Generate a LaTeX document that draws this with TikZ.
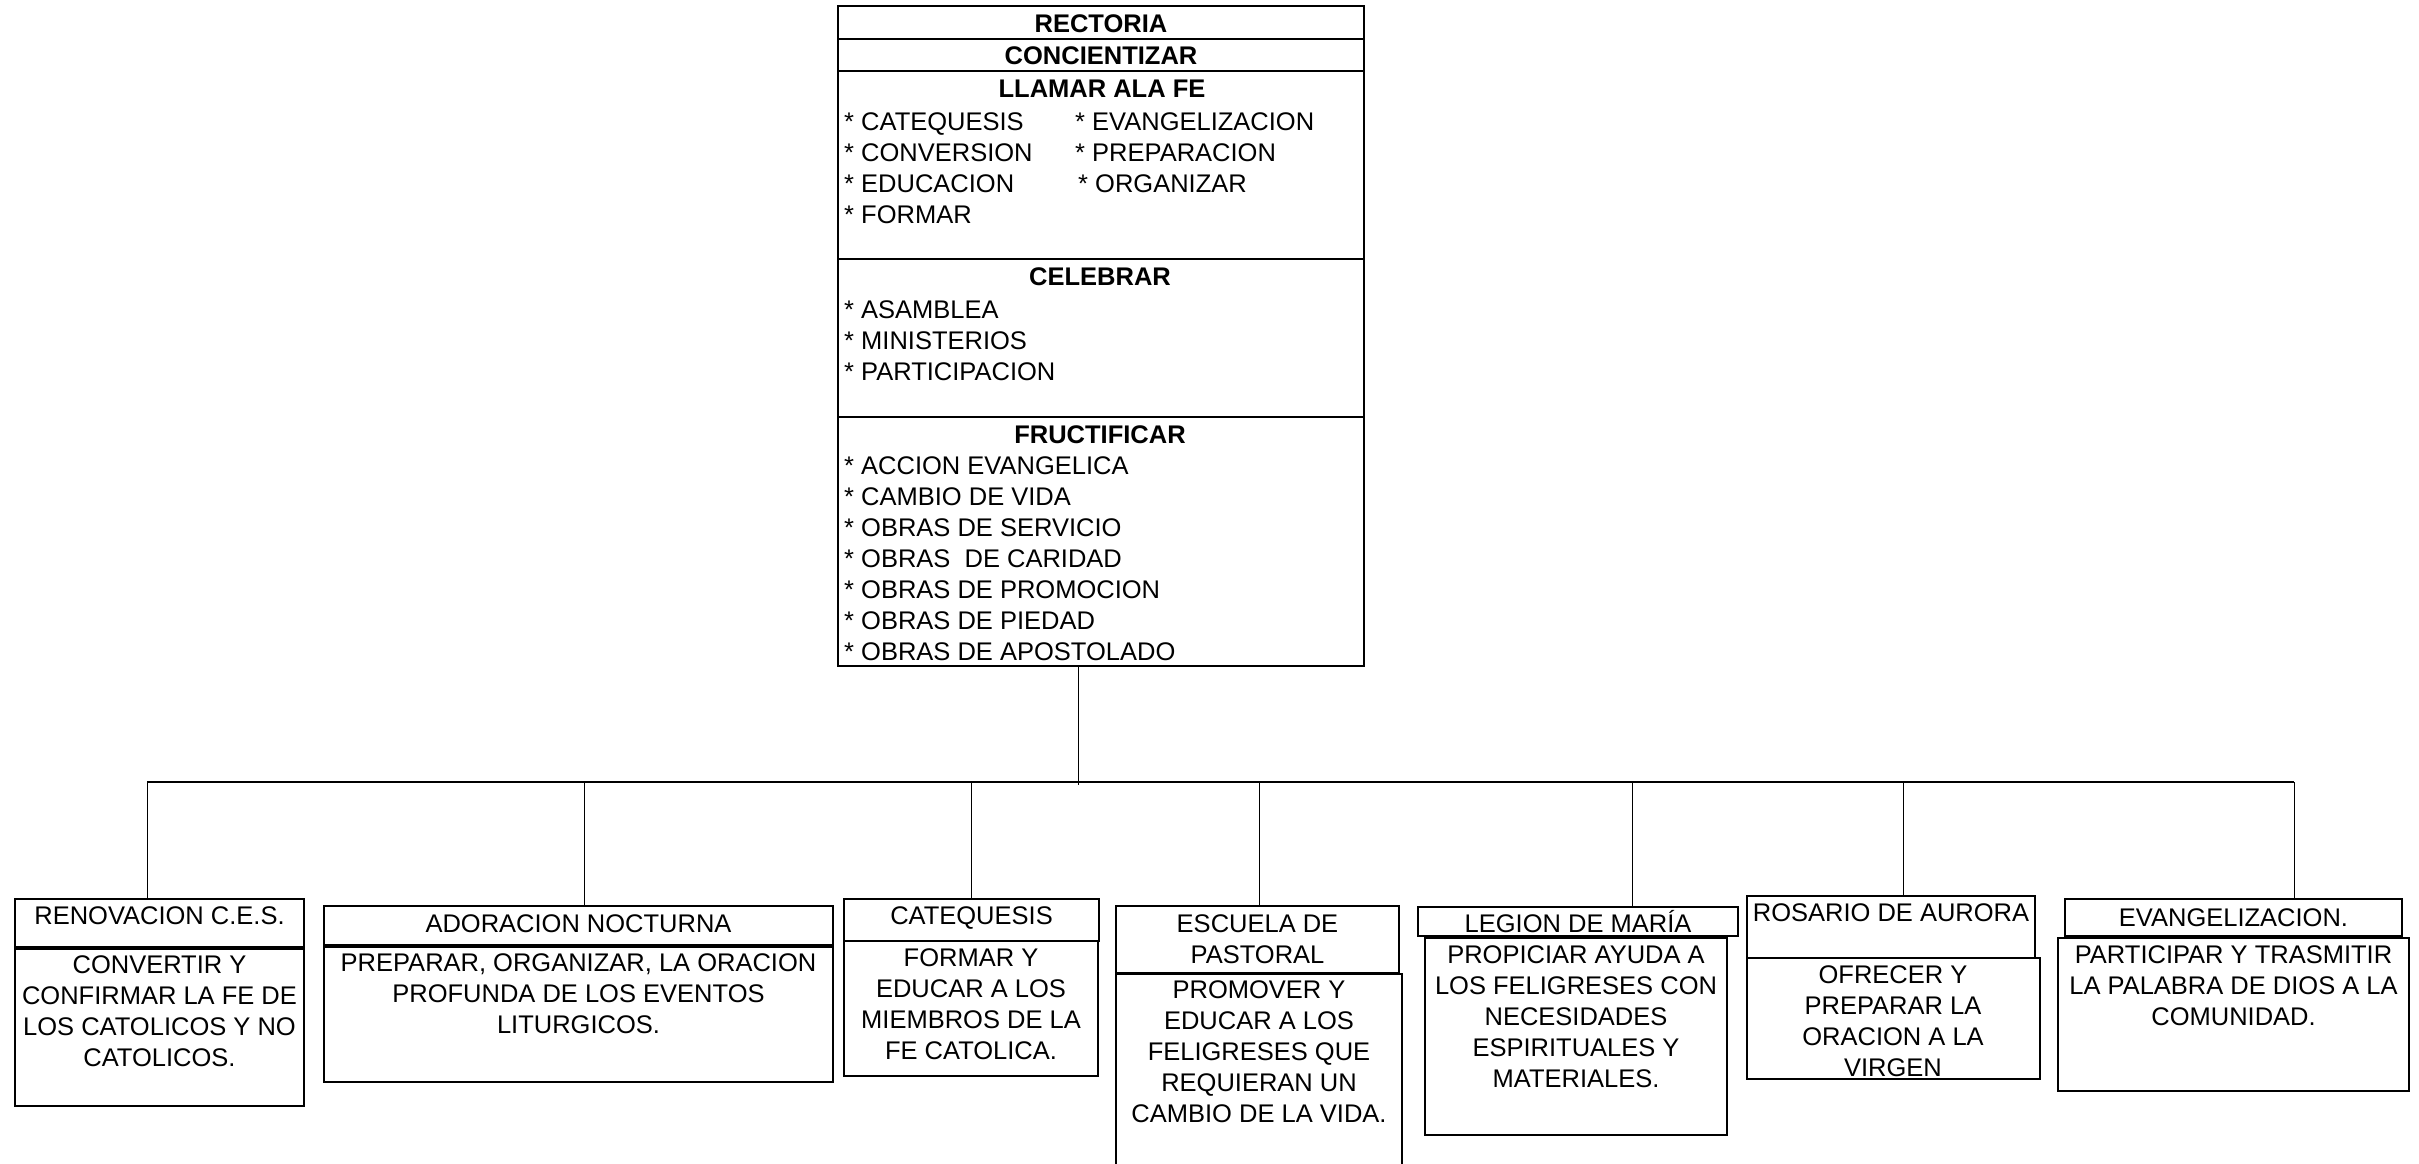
\documentclass[tikz,border=0pt]{standalone}
\usepackage{fontspec}
\setmainfont{Liberation Sans}
\newcommand\mkbox[6][box]{\node[#1, minimum width={(#5-#3)*1pt}, minimum height={(#6-#4)*1pt}] (#2) at (#3,#4) {};}
\begin{document}
\begin{tikzpicture}[x=1pt,y=-1pt,
  box/.style={draw, line width=1.5pt, inner sep=0pt, outer sep=0pt, anchor=north west},
  topbox/.style={box, line width=2pt},
  txt/.style={inner sep=0pt, font=\fontsize{25.5}{31}\selectfont, align=center, anchor=north},
  txtb/.style={inner sep=0pt, font=\fontsize{25.5}{31}\selectfont, anchor=base},
  ttl/.style={inner sep=0pt, font=\fontsize{25.5}{31}\selectfont\bfseries, anchor=base},
  lst/.style={inner sep=0pt, font=\fontsize{25.5}{31}\selectfont, align=left, anchor=north west},
  link/.style={line width=1pt},
  bar/.style={line width=2.4pt}]
\useasboundingbox (0,0) rectangle (2419,1163);
\clip (0,0) rectangle (2419,1163);
% ---- top box ----
\mkbox[topbox]{secA}{838}{6}{1364}{39}
\mkbox[topbox]{secB}{838}{39}{1364}{71}
\mkbox[topbox]{secC}{838}{71}{1364}{259}
\mkbox[topbox]{secD}{838}{259}{1364}{416.5}
\mkbox[topbox]{secE}{838}{416.5}{1364}{666}
\node[ttl] (tRect) at (1101,32) {RECTORIA};
\node[ttl] (tConc) at (1101,64.5) {CONCIENTIZAR};
\node[ttl] (tLlam) at (1102,97) {LLAMAR ALA FE};
\node[lst] (lLlamA) at (844,112) {* CATEQUESIS\\* CONVERSION\\* EDUCACION\\* FORMAR};
\node[lst] (lLlamB) at (1075,112) {* EVANGELIZACION\\* PREPARACION\\\hspace{3pt}* ORGANIZAR};
\node[ttl] (tCel) at (1100,285.5) {CELEBRAR};
\node[lst] (lCel) at (844,300) {* ASAMBLEA\\* MINISTERIOS\\* PARTICIPACION};
\node[ttl] (tFru) at (1100,443) {FRUCTIFICAR};
\node[lst] (lFru) at (844,456) {* ACCION EVANGELICA\\* CAMBIO DE VIDA\\* OBRAS DE SERVICIO\\* OBRAS\ \ DE CARIDAD\\* OBRAS DE PROMOCION\\* OBRAS DE PIEDAD\\* OBRAS DE APOSTOLADO};
% ---- child boxes ----
\mkbox{hRen}{15}{899}{304}{947}
\mkbox{bRen}{15}{949}{304}{1106}
\node[txtb] (thRen) at (159.5,924) {RENOVACION C.E.S.};
\node[txt] (tbRen) at (159.5,955.5) {CONVERTIR Y\\CONFIRMAR LA FE DE\\LOS CATOLICOS Y NO\\CATOLICOS.};
\mkbox{hAdo}{324}{906}{833}{945}
\mkbox{bAdo}{324}{947}{833}{1082}
\node[txtb] (thAdo) at (578.5,932) {ADORACION NOCTURNA};
\node[txt] (tbAdo) at (578.5,953.5) {PREPARAR, ORGANIZAR, LA ORACION\\PROFUNDA DE LOS EVENTOS\\LITURGICOS.};
\mkbox{hCat}{844}{899}{1099}{941}
\mkbox{bCat}{844}{941}{1098}{1076}
\node[txtb] (thCat) at (971.5,924) {CATEQUESIS};
\node[txt] (tbCat) at (971,948.5) {FORMAR Y\\EDUCAR A LOS\\MIEMBROS DE LA\\FE CATOLICA.};
\mkbox{hEsc}{1116}{906}{1399}{973}
\mkbox{bEsc}{1116}{974}{1402}{1190}
\node[txt] (thEsc) at (1257.5,914.5) {ESCUELA DE\\PASTORAL};
\node[txt] (tbEsc) at (1259,980.5) {PROMOVER Y\\EDUCAR A LOS\\FELIGRESES QUE\\REQUIERAN UN\\CAMBIO DE LA VIDA.};
\mkbox{hLeg}{1418}{907}{1738}{936}
\mkbox{bLeg}{1425}{938}{1727}{1135}
\node[txtb] (thLeg) at (1578,932) {LEGION DE MARÍA};
\node[txt] (tbLeg) at (1576,945.5) {PROPICIAR AYUDA A\\LOS FELIGRESES CON\\NECESIDADES\\ESPIRITUALES Y\\MATERIALES.};
\mkbox{hRos}{1747}{896}{2035}{958}
\mkbox{bRos}{1747}{958}{2040}{1079}
\node[txtb] (thRos) at (1891,921) {ROSARIO DE AURORA};
\node[txt] (tbRos) at (1893,965.5) {OFRECER Y\\PREPARAR LA\\ORACION A LA\\VIRGEN};
\mkbox{hEva}{2065}{899}{2402}{936}
\mkbox{bEva}{2058}{938}{2409}{1091}
\node[txtb] (thEva) at (2233.5,926) {EVANGELIZACION.};
\node[txt] (tbEva) at (2233.5,945.5) {PARTICIPAR Y TRASMITIR\\LA PALABRA DE DIOS A LA\\COMUNIDAD.};
% ---- connectors ----
\coordinate (barL) at (147,782);
\coordinate (barR) at (2294,782);
\coordinate (jn) at (1078,782);
\coordinate (c1) at (147,782);
\coordinate (c2) at (584,782);
\coordinate (c3) at (971,782);
\coordinate (c4) at (1259,782);
\coordinate (c5) at (1632,782);
\coordinate (c6) at (1903,782);
\coordinate (c7) at (2294,782);
\draw[bar] (barL) -- (barR);
\draw[link] (secE.south -| jn) -- (jn) -- ++(0,3);
\draw[link] (c1) -- (c1 |- hRen.north);
\draw[link] (c2) -- (c2 |- hAdo.north);
\draw[link] (c3) -- (c3 |- hCat.north);
\draw[link] (c4) -- (c4 |- hEsc.north);
\draw[link] (c5) -- (c5 |- hLeg.north);
\draw[link] (c6) -- (c6 |- hRos.north);
\draw[link] (c7) -- (c7 |- hEva.north);
\end{tikzpicture}
\end{document}
